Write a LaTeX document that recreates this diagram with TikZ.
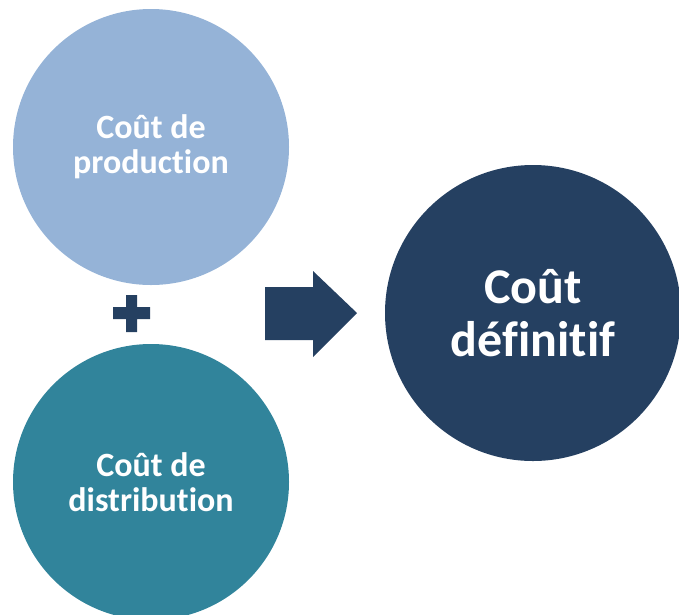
\documentclass[tikz,border=0pt]{standalone}
\usepackage{fontspec}
\setmainfont{Carlito}[Ligatures=NoCommon]
\usepackage{xcolor}
\usepackage{tikz}
\usetikzlibrary{shapes.geometric, positioning}
\definecolor{prodblue}{HTML}{95B3D7}
\definecolor{distteal}{HTML}{31849B}
\definecolor{finalnavy}{HTML}{254061}

\begin{document}
\begin{tikzpicture}[
      x=1pt, y=-1pt,
      cost/.style={circle, inner sep=0pt, text=white, align=center, font=\fontsize{34}{35}\selectfont\bfseries},
      total/.style={cost, fill=finalnavy, font=\fontsize{50}{53}\selectfont\bfseries}
    ]
      \useasboundingbox (0,0) rectangle (679,614);
      \node[cost, fill=prodblue, minimum size=276pt] (prod) at (151,147) {Coût de\\production};
      \node[cost, fill=distteal, minimum size=276pt] (dist) at (151,482) {Coût de\\distribution};
      \node[total, minimum size=296pt] (final) at (533,313) {Coût\\définitif};
      % block arrow between the sum and the result
      \fill[finalnavy] (265,287) -- (313,287) -- (313,271) -- (357,313) -- (313,357) -- (313,340) -- (265,340) -- cycle;
      % plus sign
      \fill[finalnavy] (126,295) rectangle (137,332) (113,307) rectangle (150,319);
    \end{tikzpicture}
\end{document}
